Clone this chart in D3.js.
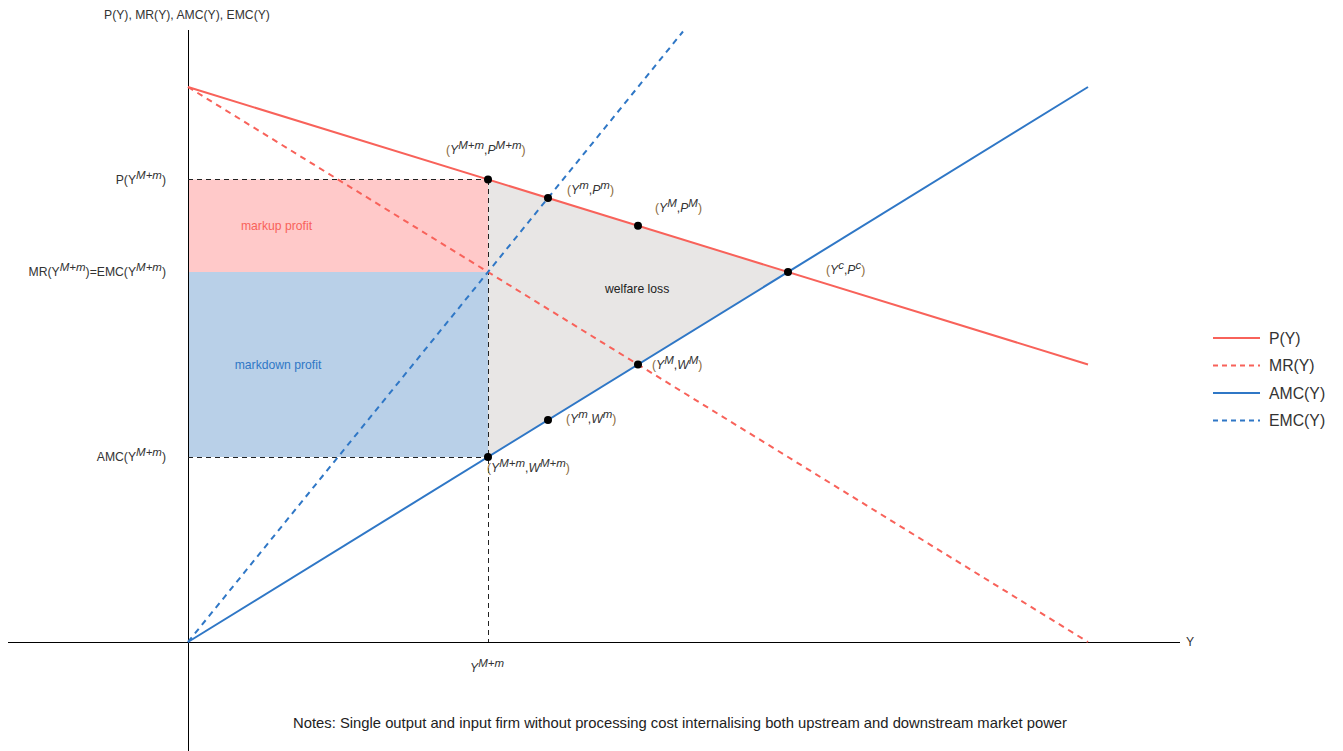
<!DOCTYPE html>
<html><head><meta charset="utf-8">
<script src="https://cdn.jsdelivr.net/npm/d3@7"></script>
<style>
body{margin:0;background:#fff;}
text{font-family:"Liberation Sans",Arial,sans-serif;}
</style></head>
<body><svg id="c" width="1343" height="751"></svg>
<script>
// ---- data (model units) ----
const xDomain = [0, 3];
const yDomain = [0, 6];
const priceLine = [[0, 6], [3, 3]];         // P(Y)
const mrLine = [[0, 6], [3, 0]];            // MR(Y)
const amcLine = [[0, 0], [3, 6]];           // AMC(Y)
const emcLine = [[0, 0], [1.65, 6.6]];      // EMC(Y)
const markupRect = {x0: 0, x1: 1, y0: 4, y1: 5};
const markdownRect = {x0: 0, x1: 1, y0: 2, y1: 4};
const welfareTri = [[1, 5], [2, 4], [1, 2]];
const pointsXY = [[1, 5], [1.2, 4.8], [1.5, 4.5], [2, 4], [1.5, 3], [1.2, 2.4], [1, 2]];
const pointLabels = [
  {b1: "Y", s1: "M+m", b2: "P", s2: "M+m", dx: -42, dy: -26},
  {b1: "Y", s1: "m", b2: "P", s2: "m", dx: 19, dy: -4},
  {b1: "Y", s1: "M", b2: "P", s2: "M", dx: 17, dy: -14},
  {b1: "Y", s1: "c", b2: "P", s2: "c", dx: 38, dy: 2},
  {b1: "Y", s1: "M", b2: "W", s2: "M", dx: 14, dy: 4},
  {b1: "Y", s1: "m", b2: "W", s2: "m", dx: 18, dy: 3},
  {b1: "Y", s1: "M+m", b2: "W", s2: "M+m", dx: -1, dy: 15}
];
const yTickValues = [5, 4, 2];
const yTickLabels = [
  [["P(Y", ""], ["M+m", "sup"], [")", ""]],
  [["MR(Y", ""], ["M+m", "sup"], [")=EMC(Y", ""], ["M+m", "sup"], [")", ""]],
  [["AMC(Y", ""], ["M+m", "sup"], [")", ""]]
];
const xTickValues = [1];
const legendNames = ["P(Y)", "MR(Y)", "AMC(Y)", "EMC(Y)"];
const legendColors = ["#f8625a", "#f8625a", "#2f77c6", "#2f77c6"];
const legendDash = [null, "5,4", null, "5,4"];
const notes = "Notes: Single output and input firm without processing cost internalising both upstream and downstream market power";

// ---- drawing ----
const svg = d3.select("#c");
const x = d3.scaleLinear().domain(xDomain).range([188, 1088]);
const y = d3.scaleLinear().domain(yDomain).range([642, 87]);
const red = "#f8625a", blue = "#2f77c6", txt = "#333";
const line = d3.line().x(d => x(d[0])).y(d => y(d[1]));
const fs = 12.2, fsSup = 11.5;

// areas
function rect(r, fill) {
  svg.append("rect").attr("x", x(r.x0)).attr("y", y(r.y1))
    .attr("width", x(r.x1) - x(r.x0)).attr("height", y(r.y0) - y(r.y1)).attr("fill", fill);
}
rect(markupRect, "#ffc9c9");
rect(markdownRect, "#b9d0e8");
svg.append("path").attr("d", line(welfareTri) + "Z").attr("fill", "#e8e6e5");

// axes
svg.append("line").attr("x1", 8).attr("x2", 1180).attr("y1", y(0)).attr("y2", y(0)).attr("stroke", "#000").attr("stroke-width", 1).attr("shape-rendering", "crispEdges");
svg.append("line").attr("x1", x(0)).attr("x2", x(0)).attr("y1", 30).attr("y2", 751).attr("stroke", "#000").attr("stroke-width", 1).attr("shape-rendering", "crispEdges");
svg.append("text").attr("x", 1186).attr("y", y(0) + 4).attr("font-size", fs).attr("fill", txt).text("Y");
svg.append("text").attr("x", 104).attr("y", 19).attr("font-size", fs).attr("fill", txt).text("P(Y), MR(Y), AMC(Y), EMC(Y)");

// dashed guides
const dash = "5,4";
function guide(x1, y1, x2, y2) {
  svg.append("line").attr("x1", x1).attr("x2", x2).attr("y1", y1).attr("y2", y2)
    .attr("stroke", "#222").attr("stroke-dasharray", dash).attr("shape-rendering", "crispEdges");
}
guide(x(0), y(5), x(1), y(5));
guide(x(0), y(2), x(1), y(2));
guide(x(1), y(5), x(1), y(0));

// curves
svg.append("path").attr("d", line(mrLine)).attr("stroke", red).attr("stroke-width", 2).attr("stroke-dasharray", "6,5").attr("fill", "none");
svg.append("path").attr("d", line(emcLine)).attr("stroke", blue).attr("stroke-width", 2).attr("stroke-dasharray", "6,5").attr("fill", "none");
svg.append("path").attr("d", line(priceLine)).attr("stroke", red).attr("stroke-width", 2).attr("fill", "none");
svg.append("path").attr("d", line(amcLine)).attr("stroke", blue).attr("stroke-width", 2).attr("fill", "none");

// area labels
svg.append("text").attr("x", x(0.295)).attr("y", y(4.5) + 4).attr("text-anchor", "middle").attr("font-size", fs).attr("fill", red).text("markup profit");
svg.append("text").attr("x", x(0.3)).attr("y", y(3) + 4).attr("text-anchor", "middle").attr("font-size", fs).attr("fill", blue).text("markdown profit");
svg.append("text").attr("x", x(1.497)).attr("y", y(3.82) + 4).attr("text-anchor", "middle").attr("font-size", fs).attr("fill", "#222").text("welfare loss");

// points
svg.selectAll("circle.pt").data(pointsXY).join("circle").attr("class", "pt")
  .attr("cx", d => x(d[0])).attr("cy", d => y(d[1])).attr("r", 4).attr("fill", "#000");

// point labels
const parenCol = "#8a6a3a";
pointLabels.forEach((l, i) => {
  const p = pointsXY[i];
  const t = svg.append("text").attr("x", x(p[0]) + l.dx).attr("y", y(p[1]) + l.dy).attr("font-size", fs).attr("fill", txt);
  t.append("tspan").attr("fill", parenCol).text("(");
  t.append("tspan").attr("font-style", "italic").text(l.b1);
  t.append("tspan").attr("font-style", "italic").attr("font-size", fsSup).attr("dy", -5).text(l.s1);
  t.append("tspan").attr("dy", 5).text(",");
  t.append("tspan").attr("font-style", "italic").text(l.b2);
  t.append("tspan").attr("font-style", "italic").attr("font-size", fsSup).attr("dy", -5).text(l.s2);
  t.append("tspan").attr("fill", parenCol).attr("dy", 5).text(")");
});

// y tick labels
yTickValues.forEach((v, i) => {
  const t = svg.append("text").attr("x", 166).attr("y", y(v) + 4).attr("text-anchor", "end").attr("font-size", fs).attr("fill", txt);
  let up = false;
  yTickLabels[i].forEach(([s, k]) => {
    const ts = t.append("tspan").text(s);
    if (k === "sup") { ts.attr("font-style", "italic").attr("font-size", fsSup).attr("dy", -5); up = true; }
    else if (up) { ts.attr("dy", 5); up = false; }
  });
});

// x tick label
xTickValues.forEach(v => {
  const t = svg.append("text").attr("x", x(v) - 18).attr("y", y(0) + 30).attr("font-size", fs).attr("fill", txt);
  t.append("tspan").attr("font-style", "italic").text("Y");
  t.append("tspan").attr("font-style", "italic").attr("font-size", fsSup).attr("dy", -5).text("M+m");
});

// legend
const lg = svg.append("g");
legendNames.forEach((n, i) => {
  const yy = 338 + i * 27.5;
  lg.append("line").attr("x1", 1213).attr("x2", 1260).attr("y1", yy).attr("y2", yy)
    .attr("stroke", legendColors[i]).attr("stroke-width", 2).attr("stroke-dasharray", legendDash[i]);
  lg.append("text").attr("x", 1269).attr("y", yy + 5.5).attr("font-size", 15.8).attr("fill", txt).text(n);
});

// notes
svg.append("text").attr("x", 680).attr("y", 728).attr("text-anchor", "middle").attr("font-size", 14.8).attr("fill", "#222").text(notes);
</script></body></html>
